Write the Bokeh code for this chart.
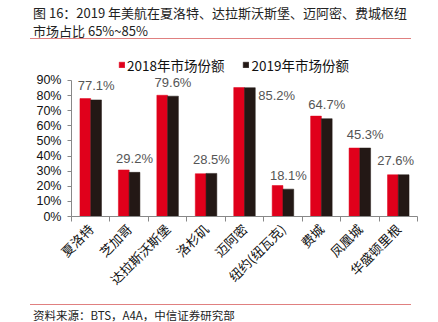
import math
from bokeh.plotting import figure
from bokeh.layouts import column
from bokeh.models import ColumnDataSource, FixedTicker, Legend, LegendItem, Range1d, Div
from bokeh.core.properties import value
from bokeh.embed import file_html
from bokeh.resources import INLINE

cities = ["夏洛特", "芝加哥", "达拉斯沃斯堡", "洛杉矶", "迈阿密", "纽约(纽瓦克)", "费城", "凤凰城", "华盛顿里根"]
share_2018 = [78.0, 30.8, 80.2, 28.3, 85.3, 20.5, 66.4, 45.3, 27.6]
share_2019 = [77.1, 29.2, 79.6, 28.5, 85.2, 18.1, 64.7, 45.3, 27.6]
y_ticks = [0, 10, 20, 30, 40, 50, 60, 70, 80, 90]
series_names = ["2018年市场份额", "2019年市场份额"]
title_lines = ["图 16：2019 年美航在夏洛特、达拉斯沃斯堡、迈阿密、费城枢纽", "市场占比 65%~85%"]
source_text = "资料来源：BTS，A4A，中信证券研究部"

RED = "#E0001B"
BLACK = "#231815"
GREY_TXT = "#555555"
CJK = "Noto Sans CJK SC"
W = 438

# ---------- title ----------
title_html = (
    "<div style=\"width:381px;height:38.5px;margin-left:30px;padding:3.5px 0 0 3px;box-sizing:border-box;"
    "border-bottom:1.5px solid #E08080;font-family:'Noto Sans CJK SC';font-size:13px;line-height:18px;"
    "color:#222222;white-space:nowrap;\">" + "<br>".join(title_lines) + "</div>"
)
t = Div(text=title_html, width=W, height=40, margin=0)

# ---------- main chart ----------
n = len(cities)
xc = [i + 0.5 for i in range(n)]
bw = 0.28
src = ColumnDataSource(dict(
    x18=[v - bw / 2 for v in xc], x19=[v + bw / 2 for v in xc],
    v18=share_2018, v19=share_2019,
    lab=[f"{v:.1f}%" for v in share_2019],
))

p = figure(width=W, height=260, output_backend="svg", toolbar_location=None,
           x_range=Range1d(0, n), y_range=Range1d(0, 106.5), margin=0,
           min_border_left=71, min_border_right=21, min_border_top=15, min_border_bottom=84)
p.outline_line_color = None
p.grid.visible = False

r18 = p.vbar(x="x18", top="v18", width=bw, source=src, fill_color=RED, line_color=RED, line_width=0.5)
r19 = p.vbar(x="x19", top="v19", width=bw, source=src, fill_color=BLACK, line_color=BLACK, line_width=0.5)

# value labels above 2019 bars; the tallest one sits to the right of its bar and the
# last one is nudged left to stay inside the chart (as in the source)
idx_side = [i for i, v in enumerate(share_2019) if v == max(share_2019)]
top_idx = [i for i in range(n) if i not in idx_side]
lab_src = ColumnDataSource(dict(
    x=[src.data["x19"][i] for i in top_idx], y=[share_2019[i] for i in top_idx],
    text=[src.data["lab"][i] for i in top_idx],
    dx=[-8 if i == n - 1 else 0 for i in top_idx],
))
p.text(x="x", y="y", text="text", x_offset="dx", source=lab_src, text_align="center", text_baseline="middle",
       y_offset=-14, text_font=value("Liberation Sans"), text_font_size="13px", text_color=GREY_TXT)
p.text(x=[src.data["x19"][i] + bw / 2 for i in idx_side], y=[share_2019[i] for i in idx_side],
       text=[src.data["lab"][i] for i in idx_side], text_align="left", text_baseline="middle",
       x_offset=3, y_offset=8, text_font=value("Liberation Sans"), text_font_size="13px", text_color=GREY_TXT)

# axes
p.yaxis.bounds = (0, 90)
p.yaxis.ticker = FixedTicker(ticks=y_ticks)
p.yaxis.major_label_overrides = {v: f"{v}%" for v in y_ticks}
p.yaxis.major_label_text_font = "Liberation Sans"
p.yaxis.major_label_text_font_size = "12.5px"
p.yaxis.major_label_text_color = "#111111"
p.yaxis.axis_line_color = "#888888"
p.yaxis.major_tick_line_color = "#888888"
p.yaxis.major_tick_out = 4
p.yaxis.major_tick_in = 0
p.yaxis.minor_tick_line_color = None
p.yaxis.major_label_standoff = 6

p.xaxis.ticker = FixedTicker(ticks=xc, minor_ticks=list(range(n + 1)))
p.xaxis.major_label_overrides = {v: c for v, c in zip(xc, cities)}
p.xaxis.major_label_orientation = math.pi / 4
p.xaxis.major_label_text_font = CJK
p.xaxis.major_label_text_font_size = "13px"
p.xaxis.major_label_text_color = "#111111"
p.xaxis.major_tick_line_color = None
p.xaxis.minor_tick_line_color = "#888888"
p.xaxis.minor_tick_out = 5
p.xaxis.minor_tick_in = 0
p.xaxis.axis_line_color = "#888888"
p.xaxis.major_label_standoff = 4

legend = Legend(items=[LegendItem(label=series_names[0], renderers=[r18]),
                       LegendItem(label=series_names[1], renderers=[r19])],
                orientation="horizontal", location=(47, 141.5), padding=0, margin=0,
                spacing=18, glyph_width=7, glyph_height=7, label_standoff=2,
                label_text_font=CJK, label_text_font_size="13.5px", label_text_color="#111111",
                border_line_color=None, background_fill_alpha=0, label_height=15)
p.add_layout(legend, "center")

# ---------- source ----------
source_html = (
    "<div style=\"width:381px;margin:3.5px 0 0 30px;padding:3px 0 0 3px;box-sizing:border-box;"
    "border-top:1.5px solid #E08080;font-family:'Noto Sans CJK SC';font-size:11.5px;line-height:14px;"
    "color:#222222;white-space:nowrap;\">" + source_text + "</div>"
)
s = Div(text=source_html, width=W, height=22, margin=0)

layout = column(t, p, s, spacing=0)
open("out.html", "w").write(file_html(layout, INLINE))
